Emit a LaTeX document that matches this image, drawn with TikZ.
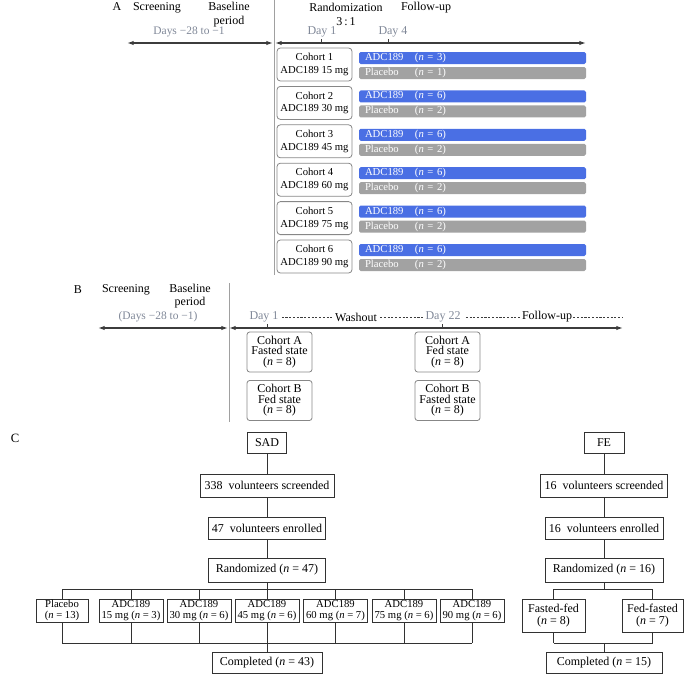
\documentclass[tikz,border=0pt]{standalone}
\usepackage{fontspec}
\setmainfont{Liberation Serif}
\usetikzlibrary{arrows.meta,calc}
\definecolor{barblue}{RGB}{74,111,228}
\definecolor{bargray}{RGB}{162,162,162}
\definecolor{daygray}{RGB}{128,136,152}
\definecolor{tlgray}{RGB}{60,60,60}
\definecolor{sepgray}{RGB}{160,160,160}
\definecolor{boxgray}{RGB}{135,135,135}
\definecolor{cline}{RGB}{50,50,50}
\begin{document}
\begin{tikzpicture}[x=0.75pt,y=-0.75pt,
  hdr/.style={font=\fontsize{9}{10}\selectfont, inner sep=0pt, align=center},
  daylbl/.style={font=\fontsize{9}{10}\selectfont, text=daygray, inner sep=0pt},
  rangelbl/.style={font=\fontsize{8.6}{10}\selectfont, text=daygray, inner sep=0pt},
  tl/.style={draw=tlgray, line width=0.9pt, {Latex[length=5pt,width=3.3pt]}-{Latex[length=5pt,width=3.3pt]}},
  tlr/.style={draw=tlgray, line width=0.9pt, -{Latex[length=5pt,width=3.3pt]}},
  tickln/.style={draw=tlgray, line width=0.6pt},
  sepln/.style={draw=sepgray, line width=0.7pt},
  cbox/.style={draw=boxgray, rounded corners=2.5pt, line width=0.6pt, minimum width=56.25pt, minimum height=24.75pt, inner sep=0pt, align=center, font=\fontsize{8}{9.6}\selectfont},
  barbox/.style={rounded corners=1.2pt, minimum height=9pt, text width=161.25pt, inner xsep=4.5pt, inner ysep=0pt, align=left, text=white, font=\fontsize{8}{9}\selectfont},
  bbox/.style={draw=boxgray, rounded corners=2pt, line width=0.6pt, minimum width=48.75pt, minimum height=30pt, inner sep=0pt, align=center, font=\fontsize{9}{7.8}\selectfont},
  dashln/.style={draw=tlgray, line width=0.5pt, dash pattern=on 1.6pt off 1.2pt},
  fbox/.style={draw=cline, line width=0.75pt, inner sep=0pt, align=center, font=\fontsize{9}{10}\selectfont},
  sbox/.style={draw=cline, line width=0.75pt, inner sep=0pt, align=center, minimum width=48pt, minimum height=17.25pt, font=\fontsize{8}{8.4}\selectfont},
  cl/.style={draw=cline, line width=0.75pt}
]
\useasboundingbox (0,0) rectangle (700,676);

% ---------------- Part A ----------------
\coordinate (sA1) at (274,0);
\coordinate (sA2) at (274,275);
\draw[sepln] (sA1) -- (sA2);

\node[hdr] (labA) at (117,7) {A};
\node[hdr] (scrA) at (157,8) {Screening};
\node[hdr] (baseA) at (229,14.5) {Baseline\\period};
\node[hdr] (randA) at (346,14.5) {Randomization\\3\,:\,1};
\node[hdr] (fuA) at (426,8) {Follow-up};
\node[rangelbl] (rngA) at (189,32) {Days −28 to −1};
\node[daylbl] (d1A) at (322,32) {Day 1};
\node[daylbl] (d4A) at (393,32) {Day 4};

\coordinate (aL) at (127,43);
\coordinate (aM) at (273,43);
\coordinate (aM2) at (275,43);
\coordinate (aR) at (586,43);
\draw[tl] (aL) -- (aM);
\draw[tl] (aM2) -- (aR);
\coordinate (t1a) at (321,39);
\coordinate (t1b) at (321,43);
\coordinate (t4a) at (388,39);
\coordinate (t4b) at (388,43);
\draw[tickln] (t1a) -- (t1b);
\draw[tickln] (t4a) -- (t4b);

\foreach \i/\dose/\na/\np in {1/15/3/1, 2/30/6/2, 3/45/6/2, 4/60/6/2, 5/75/6/2, 6/90/6/2}{
  \pgfmathsetmacro{\tp}{48+38.4*(\i-1)}
  \node[cbox] (co\i) at (314.5,\tp+16.5) {Cohort \i\\ADC189 \dose{} mg};
  \node[barbox, fill=barblue] (ba\i) at (472.5,\tp+10) {\makebox[37.5pt][l]{ADC189}(\textit{n} = \na)};
  \node[barbox, fill=bargray] (bp\i) at (472.5,\tp+25) {\makebox[37.5pt][l]{Placebo}(\textit{n} = \np)};
}

% ---------------- Part B ----------------
\coordinate (sB1) at (229,283);
\coordinate (sB2) at (229,422);
\draw[sepln] (sB1) -- (sB2);

\node[hdr] (labB) at (78,290) {B};
\node[hdr] (scrB) at (126,290) {Screening};
\node[hdr] (baseB) at (190,296) {Baseline\\period};
\node[rangelbl] (rngB) at (158,317) {(Days −28 to −1)};
\node[daylbl] (d1B) at (264,317) {Day 1};
\node[hdr] (wash) at (356,317) {Washout};
\node[daylbl] (d22B) at (443,317) {Day 22};
\node[hdr] (fuB) at (547,317) {Follow-up};
\coordinate (fuEnd) at (622,317);
\draw[dashln] (d1B.east) ++(3,0) -- ($(wash.west)+(-2,0)$);
\draw[dashln] ($(wash.east)+(3,0)$) -- ($(d22B.west)+(-1,0)$);
\draw[dashln] ($(d22B.east)+(5,0)$) -- ($(fuB.west)+(-1,0)$);
\draw[dashln] ($(fuB.east)+(1,0)$) -- (fuEnd);

\coordinate (bL) at (98,328);
\coordinate (bM) at (228,328);
\coordinate (bM2) at (229,328);
\coordinate (bR) at (623,328);
\draw[tl] (bL) -- (bM);
\draw[tl] (bM2) -- (bR);
\coordinate (tb1a) at (267,324);
\coordinate (tb1b) at (267,328);
\coordinate (tb22a) at (442,324);
\coordinate (tb22b) at (442,328);
\draw[tickln] (tb1a) -- (tb1b);
\draw[tickln] (tb22a) -- (tb22b);

\node[bbox] (bA1) at (279.5,352) {Cohort A\\Fasted state\\(\textit{n} = 8)};
\node[bbox] (bB1) at (279.5,400.5) {Cohort B\\Fed state\\(\textit{n} = 8)};
\node[bbox] (bA2) at (447.5,352) {Cohort A\\Fed state\\(\textit{n} = 8)};
\node[bbox] (bB2) at (447.5,400.5) {Cohort B\\Fasted state\\(\textit{n} = 8)};

% ---------------- Part C ----------------
\node[hdr, font=\fontsize{9.5}{10}\selectfont] (labC) at (15,438) {C};

% SAD chain
\node[fbox, minimum width=29.25pt, minimum height=15.75pt] (sad) at (267,442.5) {SAD};
\node[fbox, minimum width=100.5pt, minimum height=17.25pt] (scr) at (267,485.5) {338~ volunteers screended};
\node[fbox, minimum width=87.75pt, minimum height=16.5pt] (enr) at (267,528) {47~ volunteers enrolled};
\node[fbox, minimum width=87.75pt, minimum height=18pt] (rnd) at (267,570) {Randomized (\textit{n} = 47)};
\node[fbox, minimum width=82.5pt, minimum height=15.75pt] (comp) at (267,662.5) {Completed (\textit{n} = 43)};
\draw[cl] (sad) -- (scr);
\draw[cl] (scr) -- (enr);
\draw[cl] (enr) -- (rnd);

\coordinate (yTop) at (0,589);
\coordinate (yBot) at (0,643);

\node[sbox, minimum width=39pt] (pl) at (62,610.5) {Placebo\\(\textit{n} = 13)};
\node[sbox] (a15) at (131,610.5) {ADC189\\15 mg (\textit{n} = 3)};
\node[sbox] (a30) at (199,610.5) {ADC189\\30 mg (\textit{n} = 6)};
\node[sbox] (a45) at (267,610.5) {ADC189\\45 mg (\textit{n} = 6)};
\node[sbox] (a60) at (335.5,610.5) {ADC189\\60 mg (\textit{n} = 7)};
\node[sbox] (a75) at (404,610.5) {ADC189\\75 mg (\textit{n} = 6)};
\node[sbox] (a90) at (472,610.5) {ADC189\\90 mg (\textit{n} = 6)};

\draw[cl] (rnd.south) -- (rnd.south |- yTop);
\draw[cl] (pl.north |- yTop) -- (a90.north |- yTop);
\draw[cl] (pl.south |- yBot) -- (a90.south |- yBot);
\foreach \b in {pl,a15,a30,a45,a60,a75,a90}{
  \draw[cl] (\b.north) -- (\b.north |- yTop);
  \draw[cl] (\b.south) -- (\b.south |- yBot);
}
\draw[cl] (comp.north |- yBot) -- (comp.north);

% FE chain
\node[fbox, minimum width=30pt, minimum height=15.75pt] (fe) at (604,442.5) {FE};
\node[fbox, minimum width=95.25pt, minimum height=17.25pt] (scr16) at (604,485.5) {16~ volunteers screended};
\node[fbox, minimum width=88.5pt, minimum height=16.5pt] (enr16) at (604,528) {16~ volunteers enrolled};
\node[fbox, minimum width=88.5pt, minimum height=18pt] (rnd16) at (604,570) {Randomized (\textit{n} = 16)};
\node[fbox, minimum width=87pt, minimum height=15.75pt] (comp16) at (604,662.5) {Completed (\textit{n} = 15)};
\node[fbox, minimum width=47.25pt, minimum height=24.75pt, font=\fontsize{9}{9.5}\selectfont] (ff) at (553.5,615.5) {Fasted-fed\\(\textit{n} = 8)};
\node[fbox, minimum width=45.75pt, minimum height=24.75pt, font=\fontsize{9}{9.5}\selectfont] (fdf) at (652.5,615.5) {Fed-fasted\\(\textit{n} = 7)};
\draw[cl] (fe) -- (scr16);
\draw[cl] (scr16) -- (enr16);
\draw[cl] (enr16) -- (rnd16);
\draw[cl] (rnd16.south) -- (rnd16.south |- yTop);
\draw[cl] (ff.north |- yTop) -- (fdf.north |- yTop);
\draw[cl] (ff.north) -- (ff.north |- yTop);
\draw[cl] (fdf.north) -- (fdf.north |- yTop);
\draw[cl] (ff.south) -- (ff.south |- yBot);
\draw[cl] (fdf.south) -- (fdf.south |- yBot);
\draw[cl] (ff.south |- yBot) -- (fdf.south |- yBot);
\draw[cl] (comp16.north |- yBot) -- (comp16.north);
\end{tikzpicture}
\end{document}
